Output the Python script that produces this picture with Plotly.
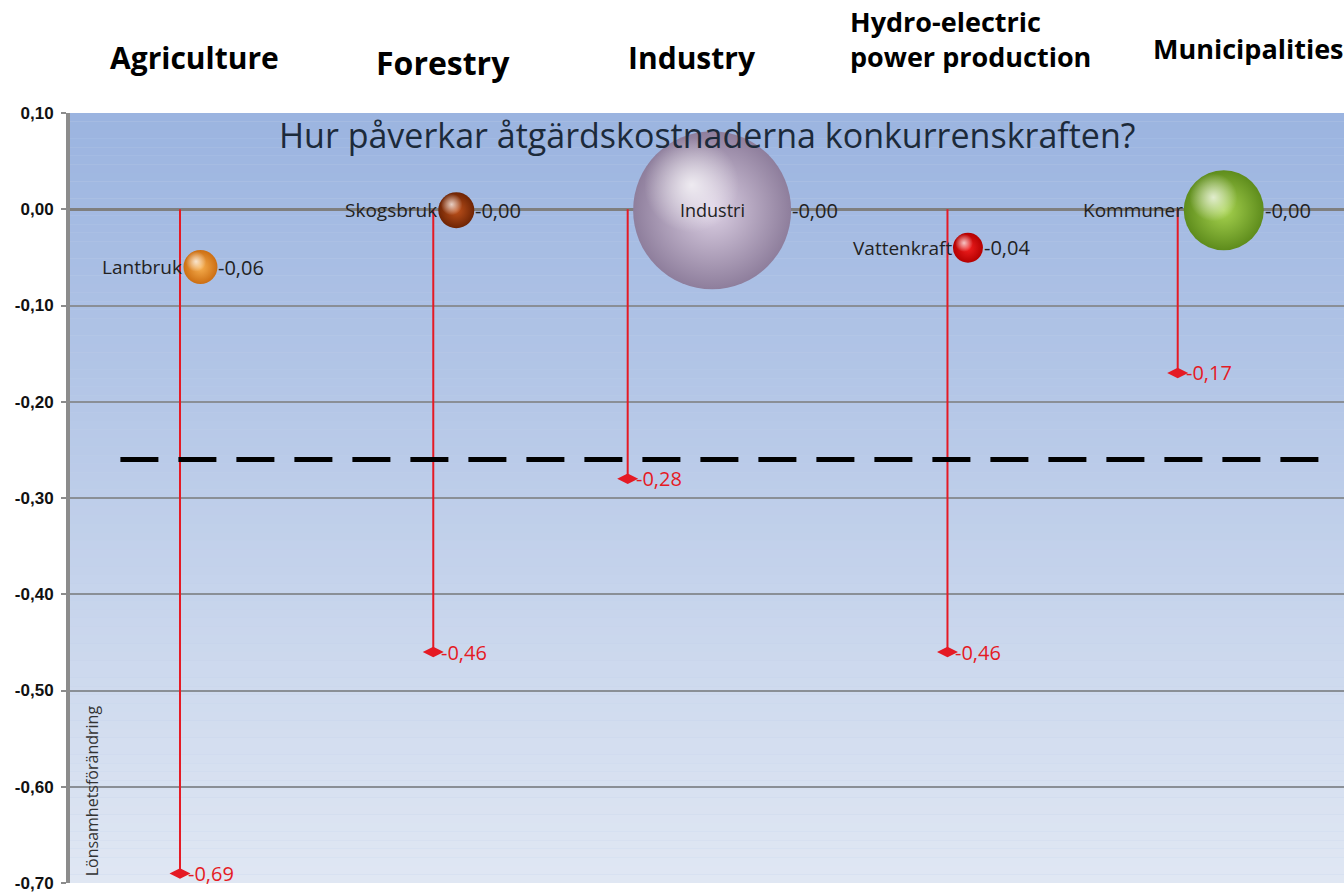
import plotly.graph_objects as go

# Sector names (Swedish in-chart labels, English headers above)
sectors_sv = ["Lantbruk", "Skogsbruk", "Industri", "Vattenkraft", "Kommuner"]
sectors_en = ["Agriculture", "Forestry", "Industry",
              "Hydro-electric<br>power production", "Municipalities"]

# Bubble series: position, value and size
bubble_x = [1, 2, 3, 4, 5]
bubble_y = [-0.06, -0.001, -0.001, -0.04, -0.001]
bubble_size = [34, 36, 158, 30, 80]
bubble_edge = ["#cc6e12", "#6e2404", "#8e7e9c", "#b40000", "#5e8c1c"]
bubble_core = ["#f8b050", "#c0521c", "#dcd0e4", "#f42020", "#a8d450"]

# Profitability change per sector (drop lines)
drop_x = [0.92, 1.91, 2.67, 3.92, 4.82]
drop_y = [-0.69, -0.46, -0.28, -0.46, -0.17]

# Reference threshold
threshold_y = -0.26
threshold_x = [0.687, 5.403]

# Header placement and size
header_x = [0.977, 1.947, 2.922, 3.532, 5.098]
header_y = [1.0727, 1.0662, 1.0727, 1.096, 1.0844]
header_anchor = ["center", "center", "center", "left", "center"]
header_size = [30, 32, 30, 27, 27]

y_ticks = [0.10, 0.00, -0.10, -0.20, -0.30, -0.40, -0.50, -0.60, -0.70]

X_RANGE = [0.49, 5.47]
Y_RANGE = [-0.70, 0.10]
W, H = 1344, 894
M = dict(l=70, r=0, t=113, b=11)


def fmt(v):
    return f"{v:.2f}".replace(".", ",")


RED = "#e51a24"
fig = go.Figure()

# Vertical drop lines
lx, ly = [], []
for x, y in zip(drop_x, drop_y):
    lx += [x, x, None]
    ly += [0, y, None]
fig.add_trace(go.Scatter(x=lx, y=ly, mode="lines",
                         line=dict(color=RED, width=2), hoverinfo="skip"))

# Diamond end markers
fig.add_trace(go.Scatter(x=drop_x, y=drop_y, mode="markers",
                         marker=dict(symbol="diamond-wide", size=15, color=RED,
                                     line=dict(width=0))))

# Shaded bubbles with a soft specular highlight
px_per_x = (W - M["l"] - M["r"]) / (X_RANGE[1] - X_RANGE[0])
px_per_y = (H - M["t"] - M["b"]) / (Y_RANGE[1] - Y_RANGE[0])
for i in range(len(sectors_sv)):
    s = bubble_size[i]
    fig.add_trace(go.Scatter(
        x=[bubble_x[i]], y=[bubble_y[i]], mode="markers",
        marker=dict(size=s, color=bubble_edge[i],
                    gradient=dict(type="radial", color=bubble_core[i]),
                    line=dict(width=0)),
        hoverinfo="skip"))
    fig.add_trace(go.Scatter(
        x=[bubble_x[i] - 0.13 * s / px_per_x], y=[bubble_y[i] + 0.16 * s / px_per_y],
        mode="markers",
        marker=dict(size=0.6 * s, color="rgba(255,255,255,0)",
                    gradient=dict(type="radial", color="rgba(255,255,255,0.75)"),
                    line=dict(width=0)),
        hoverinfo="skip"))

annotations = []
# Chart title inside the plot
annotations.append(dict(x=0.5, y=0.971, xref="paper", yref="paper",
                        text="Hur påverkar åtgärdskostnaderna konkurrenskraften?",
                        showarrow=False, xanchor="center", yanchor="middle",
                        font=dict(family="Open Sans", size=34, color="#1c2a3a")))

# Bubble name and value labels
for i, name in enumerate(sectors_sv):
    r = bubble_size[i] / 2
    if name == "Industri":
        annotations.append(dict(x=bubble_x[i], y=bubble_y[i], text=name,
                                showarrow=False, xanchor="center",
                                font=dict(family="Open Sans", size=18, color="#222")))
    else:
        annotations.append(dict(x=bubble_x[i], y=bubble_y[i], text=name,
                                showarrow=False, xanchor="right", xshift=-r + 1,
                                font=dict(family="Open Sans", size=19, color="#222")))
    annotations.append(dict(x=bubble_x[i], y=bubble_y[i], text=fmt(bubble_y[i]),
                            showarrow=False, xanchor="left", xshift=r - 1,
                            font=dict(family="Open Sans", size=20, color="#222")))

# Drop value labels
for x, y in zip(drop_x, drop_y):
    annotations.append(dict(x=x, y=y, text=fmt(y), showarrow=False,
                            xanchor="left", xshift=6,
                            font=dict(family="Open Sans", size=20, color=RED)))

# English headers
for t, hx, hy, a, fs in zip(sectors_en, header_x, header_y, header_anchor, header_size):
    annotations.append(dict(x=hx, y=hy, xref="x", yref="paper", text=t,
                            showarrow=False, xanchor=a, yanchor="middle", align="left",
                            font=dict(family="Open Sans", size=fs, color="#000",
                                      weight="bold")))

# Axis title inside plot
annotations.append(dict(x=0.017, y=0.12, xref="paper", yref="paper",
                        text="Lönsamhetsförändring", textangle=-90, showarrow=False,
                        xanchor="center", yanchor="middle",
                        font=dict(family="Open Sans", size=16, color="#333")))

shapes = []
# Vertical background gradient
N = 90
top = (155, 180, 224)
bot = (224, 231, 243)
for k in range(N):
    t = k / (N - 1)
    c = tuple(round(top[j] + (bot[j] - top[j]) * t) for j in range(3))
    shapes.append(dict(type="rect", xref="paper", yref="paper",
                       x0=0, x1=1, y0=1 - (k + 1) / N, y1=1 - k / N,
                       fillcolor=f"rgb{c}", line=dict(width=0), layer="below"))

# Threshold dashed line
shapes.append(dict(type="line", xref="x", yref="y",
                   x0=threshold_x[0], x1=threshold_x[1], y0=threshold_y, y1=threshold_y,
                   line=dict(color="black", width=5, dash="38px,20px")))

fig.update_layout(
    width=W, height=H,
    margin=M,
    paper_bgcolor="white", plot_bgcolor="#c0cfe9",
    showlegend=False,
    annotations=annotations,
    shapes=shapes,
    xaxis=dict(range=X_RANGE, showgrid=False, zeroline=False,
               showticklabels=False, ticks="", showline=False),
    yaxis=dict(range=Y_RANGE, tickvals=y_ticks, ticktext=[fmt(v) for v in y_ticks],
               showgrid=True, gridcolor="#8a8f96", gridwidth=1.5,
               zeroline=True, zerolinecolor="#7f7f7f", zerolinewidth=3,
               showline=True, linecolor="#8c8c8c", linewidth=4,
               ticks="outside", ticklen=5, tickcolor="#8c8c8c", tickwidth=2,
               tickfont=dict(family="Liberation Sans", size=17, color="#111",
                             weight="bold"),
               ticklabelstandoff=4),
)

fig.write_html("out.html")
